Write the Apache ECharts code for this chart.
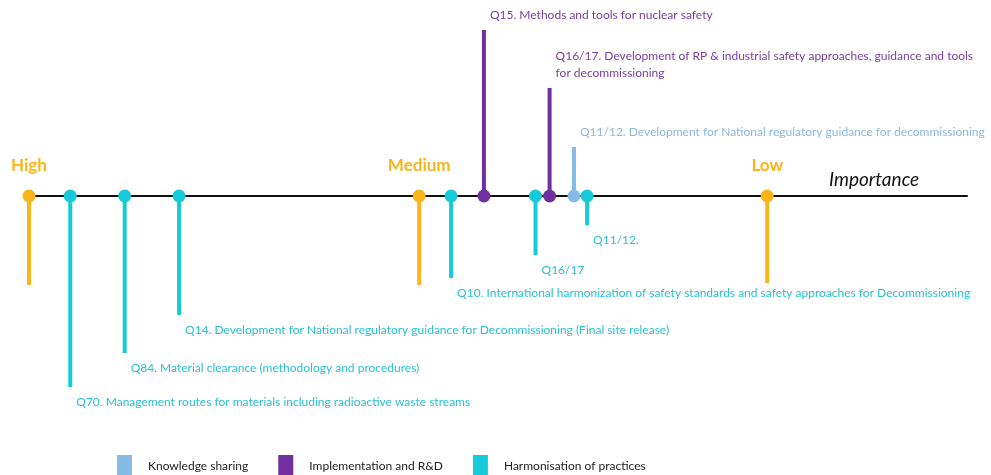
<!DOCTYPE html>
<html>
<head>
<meta charset="utf-8">
<script src="https://cdn.jsdelivr.net/npm/echarts@6/dist/echarts.min.js"></script>
<style>
  html, body { margin: 0; padding: 0; background: #fff; }
  #chart { width: 991px; height: 475px; }
</style>
</head>
<body>
<div id="chart"></div>
<script>
  // groups shown in the legend
  var groupNames = ['Knowledge sharing', 'Implementation and R&D', 'Harmonisation of practices'];
  var groupColors = ['#86BBE6', '#7030A0', '#17CAD9'];
  var groupTextColors = ['#8AB9E0', '#7A3DA2', '#2CC0D2'];

  // questions: position on the importance scale (0 = high ... 100 = end of axis) and stem length (+ up / - down)
  var questionLabels = [
    'Q70. Management routes for materials including radioactive waste streams',
    'Q84. Material clearance (methodology and procedures)',
    'Q14. Development for National regulatory guidance for Decommissioning (Final site release)',
    'Q10. International harmonization of safety standards and safety approaches for Decommissioning',
    'Q15. Methods and tools for nuclear safety',
    'Q16/17',
    'Q16/17. Development of RP & industrial safety approaches, guidance and tools\nfor decommissioning',
    'Q11/12. Development for National regulatory guidance for decommissioning',
    'Q11/12.'
  ];
  var questionGroup = [2, 2, 2, 2, 1, 2, 1, 0, 2];
  var questionImportance = [4.4, 10.2, 16.0, 45.0, 48.5, 54.0, 55.5, 58.1, 59.5];
  var questionStem = [-191, -157, -119, -82, 166, -59, 108, 49, -29];

  // importance levels
  var levelNames = ['High', 'Medium', 'Low'];
  var levelImportance = [0, 41.6, 78.7];
  var levelStem = [-89, -89, -87];
  var levelColor = '#FBB41A';

  var labelFont = '12px Lato, "Open Sans", sans-serif';

  function renderStem(params, api) {
    var x = api.value(0);
    var h = api.value(1);
    var base = api.coord([x, 0]);
    var end = api.coord([x, h]);
    var color = api.visual('color');
    var kids = [
      { type: 'line', shape: { x1: base[0], y1: base[1], x2: end[0], y2: end[1] },
        style: { stroke: color, lineWidth: 4 } },
      { type: 'circle', shape: { cx: base[0], cy: base[1], r: 6.5 }, style: { fill: color } }
    ];
    var item = params.context.items[params.dataIndex];
    if (item.level) {
      kids.push({ type: 'text', style: {
        text: item.name, x: base[0], y: base[1] - 22,
        align: 'center', verticalAlign: 'bottom',
        fill: levelColor, font: 'bold 17px Lato, "Open Sans", sans-serif'
      } });
    } else {
      kids.push({ type: 'text', style: {
        text: item.name, x: end[0] + 6,
        y: h < 0 ? end[1] + 7 : end[1] - 6,
        align: 'left', verticalAlign: h < 0 ? 'top' : 'bottom',
        fill: item.textColor, font: labelFont, lineHeight: 17
      } });
    }
    return { type: 'group', children: kids };
  }

  var series = [];
  // levels first so question stems draw on top
  var levelItems = levelNames.map(function (n) {
    return { name: n, level: true };
  });
  series.push({
    type: 'custom',
    name: 'levels',
    renderItem: function (params, api) {
      params.context.items = levelItems;
      return renderStem(params, api);
    },
    itemStyle: { color: levelColor },
    data: levelNames.map(function (n, i) { return [levelImportance[i], levelStem[i]]; }),
    z: 2
  });

  groupNames.forEach(function (g, gi) {
    var items = [];
    var data = [];
    questionLabels.forEach(function (lbl, qi) {
      if (questionGroup[qi] !== gi) return;
      items.push({ name: lbl, textColor: groupTextColors[gi] });
      data.push([questionImportance[qi], questionStem[qi]]);
    });
    series.push({
      type: 'custom',
      name: g,
      renderItem: function (params, api) {
        params.context.items = items;
        return renderStem(params, api);
      },
      itemStyle: { color: groupColors[gi] },
      data: data,
      z: 3
    });
  });

  var chart = echarts.init(document.getElementById('chart'));
  chart.setOption({
    animation: false,
    backgroundColor: '#fff',
    grid: { left: 29, right: 24, top: 16, bottom: 79 },
    xAxis: {
      type: 'value', min: 0, max: 100,
      axisLine: { onZero: true, lineStyle: { color: '#111', width: 2 } },
      axisTick: { show: false }, axisLabel: { show: false }, splitLine: { show: false },
      name: 'Importance', nameLocation: 'end', nameGap: -138,
      nameTextStyle: {
        fontFamily: 'Lato, "Open Sans", sans-serif', fontStyle: 'italic', fontSize: 19,
        color: '#111', align: 'left', verticalAlign: 'bottom', padding: [0, 0, 7, 0]
      }
    },
    yAxis: {
      type: 'value', min: -200, max: 180, show: false
    },
    legend: {
      data: groupNames,
      left: 112, top: 450,
      icon: 'rect', itemWidth: 15, itemHeight: 22, itemGap: 30,
      textStyle: { fontFamily: 'Lato, "Open Sans", sans-serif', fontSize: 12, color: '#222', padding: [0, 0, 0, 11] },
      selectedMode: false
    },
    series: series
  });
</script>
</body>
</html>
